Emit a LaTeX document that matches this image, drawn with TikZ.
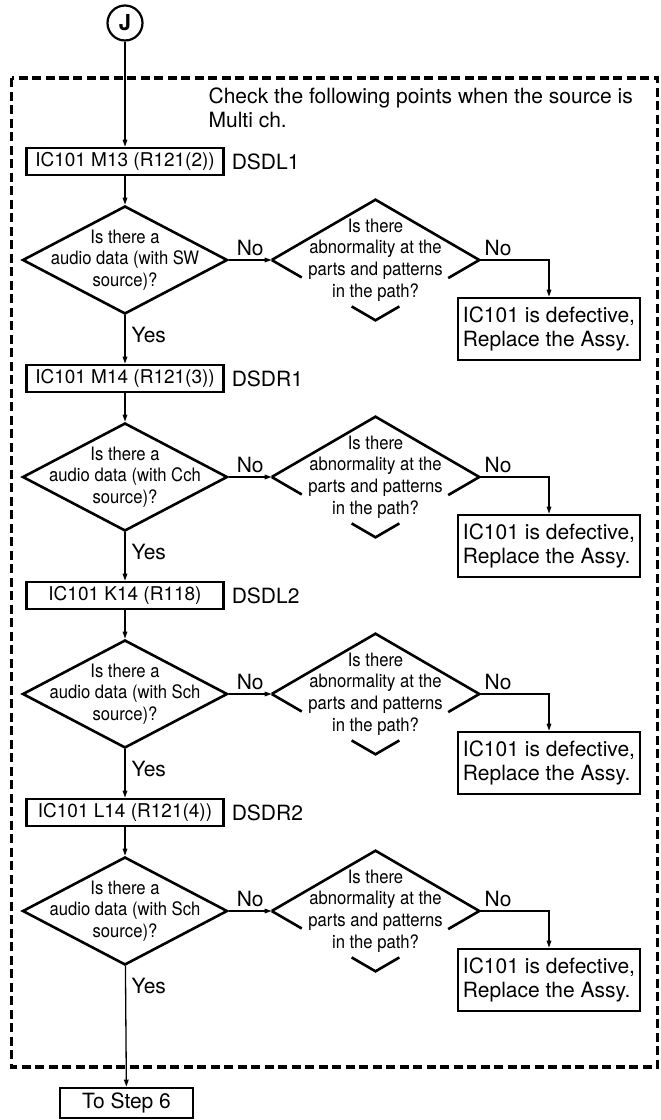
\documentclass[tikz,border=0pt]{standalone}
\usepackage{fontspec}
\setmainfont{TeX Gyre Heros}
\newfontfamily\narrowsf[FakeStretch=0.9]{TeX Gyre Heros}
\usetikzlibrary{arrows.meta, calc, shapes.geometric}

\begin{document}
\begin{tikzpicture}[x=1pt, y=-1pt,
  >={Triangle[length=7pt, width=4.5pt]}, line width=1.3pt,
  font=\fontsize{21}{24}\selectfont,
  box/.style={draw, line width=2.6pt, inner sep=2pt},
  chk/.style={box, minimum width=197pt, minimum height=27pt,
    font=\fontsize{19}{21}\selectfont},
  fault/.style={box, minimum width=182pt, minimum height=62pt, align=left},
  decision/.style={draw, diamond, line width=2.6pt, inner sep=0pt,
    minimum width=205pt, minimum height=108pt},
  qtext/.style={align=center, font=\narrowsf\fontsize{18.5}{21.7}\selectfont}]
  \useasboundingbox (0,0) rectangle (661,1120);

  % frame and entry
  \draw[line width=3.5pt, dash pattern=on 9pt off 4.5pt] (11.5,78) rectangle (657.5,1067);
  \node[draw, circle, line width=2.2pt, minimum size=35pt, inner sep=0pt,
    font=\bfseries\fontsize{22}{22}\selectfont] (J) at (125,23) {J};
  \node[anchor=north west, align=left, inner sep=0pt] (note) at (208,87)
    {Check the following points when the source is\\Multi ch.};

  % one block per channel
  \foreach \pin/\sig/\src [count=\i from 0] in
    {{IC101 M13 (R121(2))}/DSDL1/SW, {IC101 M14 (R121(3))}/DSDR1/Cch,
     {IC101 K14 (R118)}/DSDL2/Sch, {IC101 L14 (R121(4))}/DSDR2/Sch} {
    \node[chk] (B\i) at (125,161.5+217*\i) {\pin};
    \node[right, xshift=3pt] (S\i) at (B\i.east) {\sig};
    \node[decision, label={[qtext]center:{Is there a\\audio data (with \src\\source)?}}]
      (Q\i) at (125,260+217*\i) {};
    \node[decision, draw=none, minimum height=118pt,
      label={[qtext]center:{Is there\\abnormality at the\\parts and patterns\\in the path?}}]
      (P\i) at (375.5,260+217*\i) {};
    \draw[line width=2.6pt] (P\i.west) -- (P\i.north) -- (P\i.east)
      (P\i.west) -- ($(P\i.west)!0.29!(P\i.south)$)
      (P\i.east) -- ($(P\i.east)!0.3!(P\i.south)$)
      ($(P\i.south)!0.23!(P\i.west)$) -- (P\i.south) -- ($(P\i.south)!0.23!(P\i.east)$);
    \node[fault] (R\i) at (549,329+217*\i) {IC101 is defective,\\Replace the Assy.};

    \draw[->] (B\i) -- (Q\i);
    \draw[->] (Q\i) -- (P\i) node[midway, above]{No};
    \draw[->] (P\i.east) -| (R\i.north) node[pos=0.135, above]{No};
    \node[right, inner sep=0pt] (Y\i) at ($(Q\i.south)+(6,20)$) {Yes};
  }

  % exit
  \node[box, minimum width=133pt, minimum height=30pt] (step) at (126.5,1103) {To Step 6};
  \draw[->] (J) -- (B0);
  \draw[->] (Q0) -- (B1);
  \draw[->] (Q1) -- (B2);
  \draw[->] (Q2) -- (B3);
  \draw[->] (Q3) -- (step);
\end{tikzpicture}
\end{document}
